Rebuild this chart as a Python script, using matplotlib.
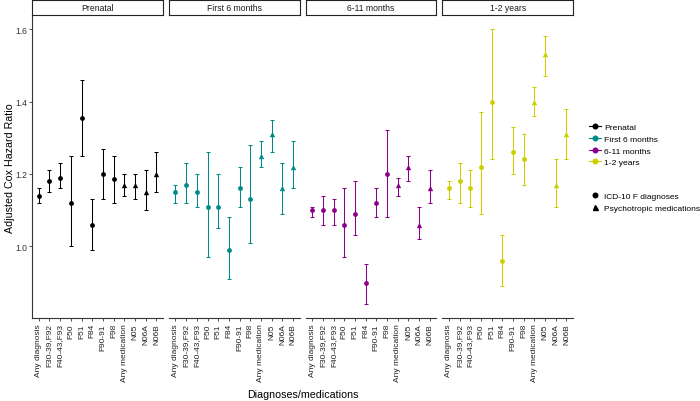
import matplotlib.pyplot as plt
from matplotlib.lines import Line2D
import numpy as np

plt.rcParams["font.family"] = ["Liberation Sans", "DejaVu Sans"]

categories = ["Any diagnosis", "F30-39,F92", "F40-43,F93", "F50", "F51", "F84",
              "F90-91", "F98", "Any medication", "N05", "N06A", "N06B"]
kinds = ["diag", "diag", "diag", "diag", "diag", "diag",
         "diag", "diag", "med", "med", "med", "med"]
periods = ["Prenatal", "First 6 months", "6-11 months", "1-2 years"]

prenatal_hr = [1.14, 1.18, 1.19, 1.12, 1.355, 1.06, 1.20, 1.185, 1.17, 1.17, 1.15, 1.20]
prenatal_lo = [1.12, 1.15, 1.16, 1.00, 1.25, 0.99, 1.13, 1.12, 1.14, 1.13, 1.10, 1.15]
prenatal_hi = [1.16, 1.21, 1.23, 1.25, 1.46, 1.13, 1.27, 1.25, 1.20, 1.20, 1.21, 1.26]

first6_hr = [1.15, 1.17, 1.15, 1.11, 1.11, 0.99, 1.16, 1.13, 1.25, 1.31, 1.16, 1.22]
first6_lo = [1.12, 1.12, 1.11, 0.97, 1.05, 0.91, 1.11, 1.01, 1.22, 1.26, 1.09, 1.16]
first6_hi = [1.17, 1.23, 1.20, 1.26, 1.20, 1.08, 1.22, 1.28, 1.29, 1.35, 1.23, 1.29]

m6_11_hr = [1.10, 1.10, 1.10, 1.06, 1.09, 0.90, 1.12, 1.20, 1.17, 1.22, 1.06, 1.16]
m6_11_lo = [1.08, 1.06, 1.06, 0.97, 1.03, 0.84, 1.08, 1.08, 1.14, 1.18, 1.02, 1.12]
m6_11_hi = [1.11, 1.14, 1.13, 1.16, 1.18, 0.95, 1.16, 1.32, 1.19, 1.25, 1.11, 1.21]

y1_2_hr = [1.16, 1.18, 1.16, 1.22, 1.40, 0.96, 1.26, 1.24, 1.40, 1.53, 1.17, 1.31]
y1_2_lo = [1.13, 1.12, 1.11, 1.09, 1.24, 0.89, 1.20, 1.17, 1.36, 1.47, 1.11, 1.24]
y1_2_hi = [1.18, 1.23, 1.21, 1.37, 1.60, 1.03, 1.33, 1.31, 1.44, 1.58, 1.24, 1.38]

hr = [prenatal_hr, first6_hr, m6_11_hr, y1_2_hr]
lo = [prenatal_lo, first6_lo, m6_11_lo, y1_2_lo]
hi = [prenatal_hi, first6_hi, m6_11_hi, y1_2_hi]
colors = ["black", "#008B8B", "#8B008B", "#CDCD00"]

W, H = 700, 402
fig = plt.figure(figsize=(W / 100, H / 100), dpi=100)

panel_left = [32.3, 169.0, 305.7, 442.4]
panel_w = 130.5
p_top, p_bot = 16.0, 319.0
x = np.arange(1, len(categories) + 1)
is_med = np.array([k == "med" for k in kinds])

for i, period in enumerate(periods):
    ax = fig.add_axes([panel_left[i] / W, 1 - p_bot / H, panel_w / W, (p_bot - p_top) / H])
    y = np.array(hr[i])
    yl = np.array(lo[i])
    yh = np.array(hi[i])
    ax.errorbar(x, y, yerr=[y - yl, yh - y], fmt="none", ecolor=colors[i],
                elinewidth=0.75, capsize=1.5, capthick=0.75)
    ax.scatter(x[~is_med], y[~is_med], marker="o", s=12, color=colors[i], zorder=3, linewidths=0)
    ax.scatter(x[is_med], y[is_med], marker="^", s=15, color=colors[i], zorder=3, linewidths=0)
    ax.set_xlim(0.4, 12.6)
    ax.set_ylim(0.802, 1.639)
    ax.set_xticks(x)
    ax.set_xticklabels(categories, rotation=90, fontsize=6, color="#222222")
    ax.tick_params(axis="x", length=2.2, width=0.6, pad=1.5, color="#333333")
    for s in ["top", "right"]:
        ax.spines[s].set_visible(False)
    ax.spines["bottom"].set_linewidth(0.8)
    ax.spines["bottom"].set_color("#333333")
    if i == 0:
        ax.set_yticks([1.0, 1.2, 1.4, 1.6])
        ax.set_yticklabels(["1.0", "1.2", "1.4", "1.6"], fontsize=6.2, color="#333333")
        ax.tick_params(axis="y", length=2.2, width=0.6, pad=1.2, color="#333333")
        ax.spines["left"].set_linewidth(0.8)
        ax.spines["left"].set_color("#333333")
    else:
        ax.set_yticks([])
        ax.spines["left"].set_visible(False)
    ax.patch.set_alpha(0)

    # facet strip
    sax = fig.add_axes([panel_left[i] / W, 1 - 15.7 / H, panel_w / W, 15.0 / H])
    sax.set_xticks([])
    sax.set_yticks([])
    for s in sax.spines.values():
        s.set_linewidth(0.8)
        s.set_color("#222222")
    sax.text(0.5, 0.5, period, ha="center", va="center", fontsize=6.2, color="#1a1a1a",
             transform=sax.transAxes)

fig.text(302.5 / W, 1 - 395 / H, "Diagnoses/medications", ha="center", va="center", fontsize=7.7)
fig.text(10 / W, 1 - 168 / H, "Adjusted Cox Hazard Ratio", ha="center", va="center",
         rotation=90, fontsize=7.7)

period_handles = [Line2D([], [], color=c, marker="o", markersize=3.3, lw=0.8) for c in colors]
fig.legend(period_handles, periods, loc="center left",
           bbox_to_anchor=(589.3 / W, 1 - 145.7 / H), frameon=False, fontsize=6.1,
           handlelength=1.33, handletextpad=0.38, labelspacing=0.45,
           borderpad=0, borderaxespad=0)
shape_handles = [Line2D([], [], color="black", marker="o", markersize=3.3, lw=0),
                 Line2D([], [], color="black", marker="^", markersize=3.6, lw=0)]
fig.legend(shape_handles, ["ICD-10 F diagnoses", "Psychotropic medications"], loc="center left",
           bbox_to_anchor=(589.3 / W, 1 - 202.8 / H), frameon=False, fontsize=6.0,
           handlelength=1.33, handletextpad=0.38, labelspacing=0.45,
           borderpad=0, borderaxespad=0)

fig.savefig("out.png", dpi=100)
